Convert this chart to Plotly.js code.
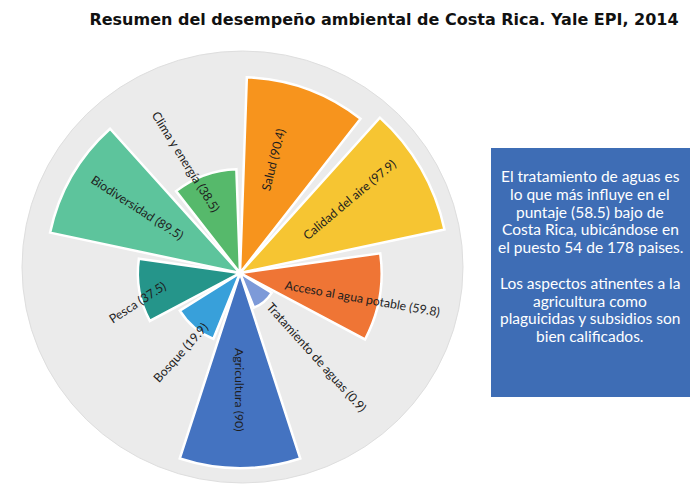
<!DOCTYPE html>
<html>
<head>
<meta charset="utf-8">
<script src="https://cdn.plot.ly/plotly-3.0.1.min.js"></script>
<style>html,body{margin:0;padding:0;background:#fff;}#chart{width:696px;height:502px;}</style>
</head>
<body>
<div id="chart"></div>
<script>
// ---- data ----
const categories = ["Salud", "Calidad del aire", "Acceso al agua potable", "Tratamiento de aguas",
  "Agricultura", "Bosque", "Pesca", "Biodiversidad", "Clima y energía"];
const values = [90.4, 97.9, 59.8, 0.9, 90, 19.9, 37.5, 89.5, 38.5];
const labelTexts = ["Salud (90.4)", "Calidad del aire (97.9)", "Acceso al agua potable (59.8)",
  "Tratamiento de aguas (0.9)", "Agricultura (90)", "Bosque (19.9)", "Pesca (37.5)",
  "Biodiversidad (89.5)", "Clima y energía (38.5)"];
const titleText = "Resumen del desempeño ambiental de Costa Rica. Yale EPI, 2014";
const noteLines = ["El tratamiento de aguas es", "lo que más influye en el", "puntaje (58.5) bajo de",
  "Costa Rica, ubicándose en", "el puesto 54 de 178 paises.", "",
  "Los aspectos atinentes a la", "agricultura como", "plaguicidas y subsidios son",
  "bien calificados."];

// ---- styles ----
const colors = ["#F7941D", "#F6C532", "#EF7535", "#7D9AD8", "#4473C1", "#38A0DA", "#25958A", "#5DC49C", "#56B96B"];
const labelR = [118, 132, 125, 114, 117, 99, 107, 122, 124];          // px from centre
const labelDTheta = [-3.5, -4, 1.6, -2.5, 0, -3, -6, 2.6, -6];       // deg offset
const labelAngle = [-76, -40, 10, 48, 90, -48, -33, 33, 58];          // text rotation

const W = 696, H = 502;
const cx = 240, cy = 273, R = 217;           // polar centre / radius in px
const radialMin = -20.2, radialMax = 102.4;
const sector = 360 / categories.length;

const trace = {
  type: "barpolar",
  theta: categories,
  r: values.map(v => v - radialMin),
  base: radialMin,
  marker: {color: colors, line: {color: "#ffffff", width: 2.5}},
  hoverinfo: "skip"
};

const annotations = labelTexts.map((t, i) => {
  const ang = (i * sector + sector / 2 + labelDTheta[i]) * Math.PI / 180;
  const px = cx + labelR[i] * Math.sin(ang);
  const py = cy - labelR[i] * Math.cos(ang);
  return {
    text: t, xref: "paper", yref: "paper", x: px / W, y: 1 - py / H,
    xanchor: "center", yanchor: "middle", showarrow: false, textangle: labelAngle[i],
    font: {family: "Lato, 'Open Sans', sans-serif", size: 12.3, color: "#1e1e1e"}
  };
});
noteLines.forEach((line, k) => {
  if (!line) return;
  annotations.push({
    text: line, xref: "paper", yref: "paper", x: 590 / W, y: 1 - (176 + 17.8 * k) / H,
    xanchor: "center", yanchor: "middle", showarrow: false, align: "center",
    font: {family: "Lato, sans-serif", size: 15.5, color: "#ffffff"}
  });
});

const layout = {
  width: W, height: H,
  margin: {l: 0, r: 0, t: 0, b: 0},
  paper_bgcolor: "#ffffff",
  showlegend: false,
  title: {text: "<b>" + titleText + "</b>", x: 384 / W, xanchor: "center", y: 1 - 19 / H, yanchor: "middle",
    font: {family: "'DejaVu Sans', sans-serif", size: 16, color: "#111111"}},
  polar: {
    domain: {x: [(cx - R) / W, (cx + R) / W], y: [(H - cy - R) / H, (H - cy + R) / H]},
    bgcolor: "rgba(0,0,0,0)",
    angularaxis: {direction: "clockwise", rotation: 90 - sector / 2, showline: false, showgrid: false,
      ticks: "", showticklabels: false},
    radialaxis: {range: [radialMin, radialMax], visible: false, showgrid: false, showline: false}
  },
  shapes: [
    {type: "circle", xref: "paper", yref: "paper", layer: "below",
      x0: 22 / W, x1: 463 / W, y0: (H - 483) / H, y1: (H - 51) / H,
      fillcolor: "#ebebeb", line: {color: "#dedede", width: 1}},
    {type: "rect", xref: "paper", yref: "paper", layer: "below",
      x0: 491 / W, x1: 690 / W, y0: (H - 397) / H, y1: (H - 148) / H,
      fillcolor: "#3E6DB5", line: {width: 0}}
  ],
  annotations: annotations
};

Plotly.newPlot("chart", [trace], layout, {displayModeBar: false, staticPlot: true});
</script>
</body>
</html>
